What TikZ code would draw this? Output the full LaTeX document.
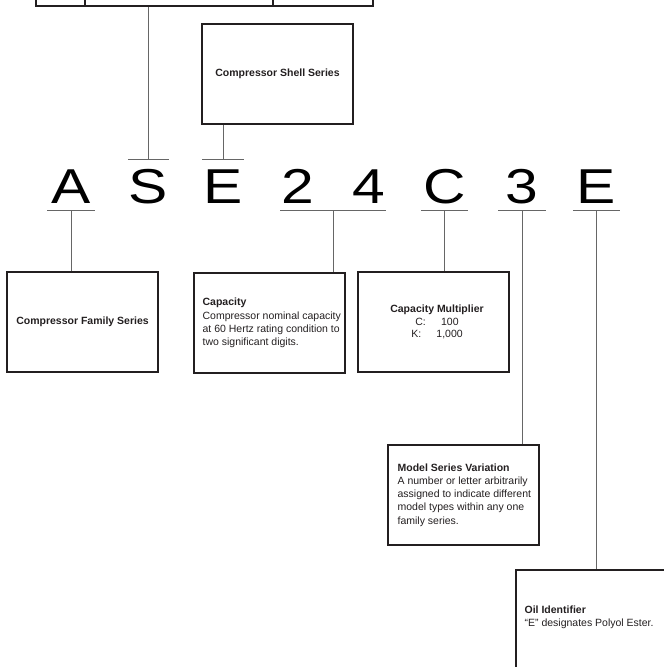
\documentclass[tikz,border=0pt]{standalone}
\usepackage{fontspec}
\setmainfont{Liberation Sans}
\newfontfamily\codefont[FakeStretch=1.2]{Liberation Sans}
\usetikzlibrary{calc}
\definecolor{ink}{HTML}{231F20}
\definecolor{rule}{HTML}{666666}
\tikzset{
  box/.style={rectangle, draw=ink, line width=1.2pt, minimum width=151pt, minimum height=100pt,
    inner sep=0pt, align=center, text=ink, font=\fontsize{10.5}{12.5}\selectfont\bfseries},
  note/.style={anchor=west, inner sep=0pt, align=left, text=ink, font=\fontsize{10.5}{13.2}\selectfont},
  letter/.style={inner sep=0pt, anchor=base, text height=43pt, text depth=7pt, minimum width=47pt,
    text=black, font=\codefont\fontsize{49}{49}\selectfont},
  topletter/.style={letter, minimum width=41pt},
  digit/.style={letter, minimum width=34pt},
  cell/.style={rectangle, draw=ink, line width=1.2pt, minimum height=40pt, inner sep=0pt},
  bar/.style={draw=rule, line width=1pt},
  conn/.style={draw=rule, line width=1pt}
}
\begin{document}
\begin{tikzpicture}[x=1pt, y=-1pt]
    \useasboundingbox (0,0) rectangle (664,667);
    \node[cell, minimum width=49pt] (top1) at (60.5,-14) {};
    \node[cell, minimum width=188pt] (top2) at (179,-14) {};
    \node[cell, minimum width=100pt] (top3) at (323,-14) {};
    \node[box] (shell) at (277.5,74) {Compressor Shell Series};

    \node[letter] (A) at (71,203) {A};
    \node[topletter] (S) at (148.5,203) {S};
    \node[topletter] (E1) at (223,203) {E};
    \node[digit] (d2) at (297.5,203) {2};
    \node[digit] (d4) at (369,203) {4};
    \node[letter] (C) at (444.5,203) {C};
    \node[letter] (d3) at (522,203) {3};
    \node[letter] (E2) at (596.5,203) {E};

    \node[box] (fam) at (82.5,322) {Compressor Family Series};
    \node[box] (cap) at (269.5,323) {};
    \node[note] (captext) at ([xshift=9pt]cap.west) {\textbf{Capacity}\\Compressor nominal capacity\\at 60 Hertz rating condition to\\two significant digits.};
    \node[box] (mult) at (433.5,322) {};
    \node[box, draw=none, minimum size=0pt] (multtext) at ([xshift=3.5pt]mult.center) {Capacity Multiplier\\\mdseries C:\hspace{1.45em}100\\\mdseries K:\hspace{1.45em}1,000};
    \node[box] (model) at (463.5,495) {};
    \node[note] (modeltext) at ([xshift=10pt]model.west) {\textbf{Model Series Variation}\\A number or letter arbitrarily\\assigned to indicate different\\model types within any one\\family series.};
    \node[box] (oil) at (591.5,620) {};
    \node[note] (oiltext) at ([xshift=9pt, yshift=2.5pt]oil.west) {\textbf{Oil Identifier}\\“E” designates Polyol Ester.};

    \draw[bar] (A.south west) -- (A.south east);
    \draw[bar] (S.north west) -- (S.north east);
    \draw[bar] (E1.north west) -- (E1.north east);
    \draw[bar] (d2.south west) -- (d4.south east);
    \draw[bar] (C.south west) -- (C.south east);
    \draw[bar] (d3.south west) -- (d3.south east);
    \draw[bar] (E2.south west) -- (E2.south east);

    \coordinate (cap24) at ($(d2.south west)!0.5!(d4.south east)$);
    \draw[conn, line width=1.5pt] (S.north) -- (S.north |- top2.south);
    \draw[conn] (E1.north) -- (E1.north |- shell.south);
    \draw[conn] (A.south) -- (A.south |- fam.north);
    \draw[conn] (cap24) -- (cap24 |- cap.north);
    \draw[conn] (C.south) -- (C.south |- mult.north);
    \draw[conn] (d3.south) -- (d3.south |- model.north);
    \draw[conn] (E2.south) -- (E2.south |- oil.north);
\end{tikzpicture}
\end{document}
